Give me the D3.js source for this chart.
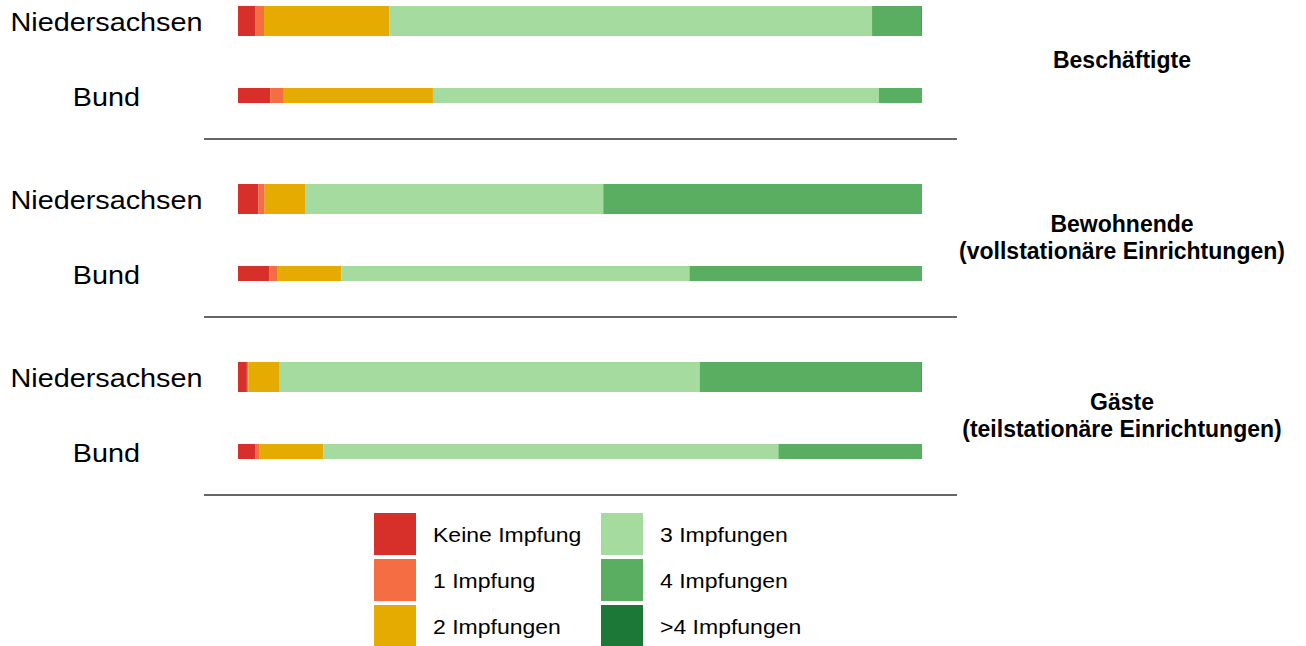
<!DOCTYPE html>
<html>
<head>
<meta charset="utf-8">
<script src="https://cdn.jsdelivr.net/npm/d3@7"></script>
<style>
  body { margin: 0; background: #fff; }
  svg text { font-family: "Liberation Sans", Arial, sans-serif; fill: #000; }
</style>
</head>
<body>
<script>
// categories (stack order, left to right)
const categories = ["Keine Impfung", "1 Impfung", "2 Impfungen", "3 Impfungen", "4 Impfungen", ">4 Impfungen"];
const colors = ["#d7302a", "#f46d43", "#e5ab00", "#a6dba0", "#5aae61", "#1b7837"];

const groups = ["Beschäftigte", "Bewohnende", "Gäste"];
const groupLabels = [
  ["Beschäftigte"],
  ["Bewohnende", "(vollstationäre Einrichtungen)"],
  ["Gäste", "(teilstationäre Einrichtungen)"]
];
const regions = ["Niedersachsen", "Bund"];

// shares in percent, one array per group, one row per region
const beschaeftigte = [
  [2.5, 1.3, 18.3, 70.6, 7.2, 0.1],
  [4.7, 2.0, 21.8, 65.2, 6.3, 0.0]
];
const bewohnende = [
  [3.0, 0.9, 5.9, 43.6, 46.6, 0.0],
  [4.6, 1.1, 9.4, 50.9, 34.0, 0.0]
];
const gaeste = [
  [1.3, 0.2, 4.6, 61.4, 32.4, 0.1],
  [2.5, 0.6, 9.4, 66.5, 21.0, 0.0]
];
const values = [beschaeftigte, bewohnende, gaeste];

const W = 1306, H = 646;

const svg = d3.select("body").append("svg")
  .attr("width", W)
  .attr("height", H);

const x = d3.scaleLinear().domain([0, 100]).range([238, 922]);
const yGroup = d3.scaleBand().domain(groups).range([-39, 495]);
const rowOffset = d3.scaleOrdinal().domain(regions).range([60, 134.5]);
const barH = d3.scaleOrdinal().domain(regions).range([30, 15]);
const color = d3.scaleOrdinal().domain(categories).range(colors);

// flatten into stacked rows
const rows = [];
groups.forEach((g, gi) => {
  regions.forEach((r, ri) => {
    const vals = values[gi][ri];
    let acc = 0;
    vals.forEach((v, ci) => {
      rows.push({ group: g, region: r, cat: categories[ci], x0: acc, x1: acc + v });
      acc += v;
    });
  });
});

const rowY = (g, r) => yGroup(g) + rowOffset(r);

// bars
svg.append("g")
  .selectAll("rect")
  .data(rows.filter(d => d.x1 > d.x0))
  .join("rect")
    .attr("x", d => x(d.x0))
    .attr("width", d => x(d.x1) - x(d.x0))
    .attr("y", d => rowY(d.group, d.region) - barH(d.region) / 2)
    .attr("height", d => barH(d.region))
    .attr("fill", d => color(d.cat));

// left labels
groups.forEach(g => {
  regions.forEach(r => {
    svg.append("text")
      .attr("transform", `translate(106.5,${rowY(g, r) + 1.5}) scale(1.13,1)`)
      .attr("text-anchor", "middle")
      .attr("dy", "0.35em")
      .attr("font-size", "25.5px")
      .text(r);
  });
});

// separator lines
groups.forEach(g => {
  const yy = yGroup(g) + yGroup.bandwidth();
  svg.append("line")
    .attr("x1", 204).attr("x2", 957)
    .attr("y1", yy).attr("y2", yy)
    .attr("stroke", "#333")
    .attr("stroke-width", 1.5);
});

// group labels on the right
groups.forEach((g, gi) => {
  const lines = groupLabels[gi];
  const cy = yGroup(g) + yGroup.bandwidth() / 2 + 9.5;
  const t = svg.append("text")
    .attr("x", 1122)
    .attr("text-anchor", "middle")
    .attr("font-size", "23px")
    .attr("font-weight", "bold");
  lines.forEach((l, li) => {
    t.append("tspan")
      .attr("x", 1122)
      .attr("y", cy + (li - (lines.length - 1) / 2) * 26.5)
      .attr("dy", "0.35em")
      .text(l);
  });
});

// legend
const legCol = d3.scaleOrdinal().domain([0, 1]).range([374, 601]);
const legRow = d3.scaleOrdinal().domain([0, 1, 2]).range([513, 559, 605]);
const legend = svg.append("g");
categories.forEach((c, i) => {
  const col = Math.floor(i / 3), row = i % 3;
  legend.append("rect")
    .attr("x", legCol(col))
    .attr("y", legRow(row))
    .attr("width", 42)
    .attr("height", 42)
    .attr("fill", color(c));
  legend.append("text")
    .attr("transform", `translate(${legCol(col) + 59},${legRow(row) + 22}) scale(1.15,1)`)
    .attr("dy", "0.35em")
    .attr("font-size", "20px")
    .text(c);
});
</script>
</body>
</html>
